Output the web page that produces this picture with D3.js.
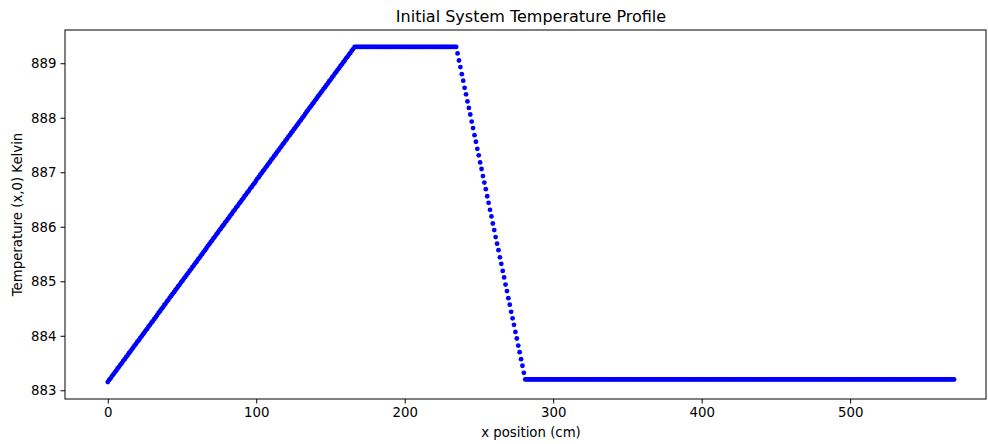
<!DOCTYPE html>
<html lang="en">
<head>
    <meta charset="UTF-8">
    <title>Initial System Temperature Profile</title>
    <script src="https://d3js.org/d3.v7.min.js"></script>
    <style>
        body { margin: 0; background: #fff; }
        text { font-family: "DejaVu Sans", sans-serif; fill: #000; }
        .axis text { font-size: 13.3px; }
        .axis path, .axis line { stroke: #000; stroke-width: 1; }
        .dot { fill: #0000ff; }
    </style>
</head>
<body>
    <div id="chart"></div>
    <script>
        // x positions of the grid nodes (cm)
        const xPositions = [
            0,0.95,1.9,2.85,3.8,4.75,5.7,6.65,7.6,8.55,9.5,10.45,11.4,12.35,13.3,14.25,15.2,16.15,17.1,18.05,
            19,19.95,20.9,21.85,22.8,23.75,24.7,25.65,26.6,27.55,28.5,29.45,30.4,31.35,32.3,33.25,34.2,35.15,36.1,37.05,
            38,38.95,39.9,40.85,41.8,42.75,43.7,44.65,45.6,46.55,47.5,48.45,49.4,50.35,51.3,52.25,53.2,54.15,55.1,56.05,
            57,57.95,58.9,59.85,60.8,61.75,62.7,63.65,64.6,65.55,66.5,67.45,68.4,69.35,70.3,71.25,72.2,73.15,74.1,75.05,
            76,76.95,77.9,78.85,79.8,80.75,81.7,82.65,83.6,84.55,85.5,86.45,87.4,88.35,89.3,90.25,91.2,92.15,93.1,94.05,
            95,95.95,96.9,97.85,98.8,99.75,100.7,101.65,102.6,103.55,104.5,105.45,106.4,107.35,108.3,109.25,110.2,111.15,112.1,113.05,
            114,114.95,115.9,116.85,117.8,118.75,119.7,120.65,121.6,122.55,123.5,124.45,125.4,126.35,127.3,128.25,129.2,130.15,131.1,132.05,
            133,133.95,134.9,135.85,136.8,137.75,138.7,139.65,140.6,141.55,142.5,143.45,144.4,145.35,146.3,147.25,148.2,149.15,150.1,151.05,
            152,152.95,153.9,154.85,155.8,156.75,157.7,158.65,159.6,160.55,161.5,162.45,163.4,164.35,165.3,166.25,167.2,168.15,169.1,170.05,
            171,171.95,172.9,173.85,174.8,175.75,176.7,177.65,178.6,179.55,180.5,181.45,182.4,183.35,184.3,185.25,186.2,187.15,188.1,189.05,
            190,190.95,191.9,192.85,193.8,194.75,195.7,196.65,197.6,198.55,199.5,200.45,201.4,202.35,203.3,204.25,205.2,206.15,207.1,208.05,
            209,209.95,210.9,211.85,212.8,213.75,214.7,215.65,216.6,217.55,218.5,219.45,220.4,221.35,222.3,223.25,224.2,225.15,226.1,227.05,
            228,228.95,229.9,230.85,231.8,232.75,233.7,234.65,235.6,236.55,237.5,238.45,239.4,240.35,241.3,242.25,243.2,244.15,245.1,246.05,
            247,247.95,248.9,249.85,250.8,251.75,252.7,253.65,254.6,255.55,256.5,257.45,258.4,259.35,260.3,261.25,262.2,263.15,264.1,265.05,
            266,266.95,267.9,268.85,269.8,270.75,271.7,272.65,273.6,274.55,275.5,276.45,277.4,278.35,279.3,280.25,281.2,282.15,283.1,284.05,
            285,285.95,286.9,287.85,288.8,289.75,290.7,291.65,292.6,293.55,294.5,295.45,296.4,297.35,298.3,299.25,300.2,301.15,302.1,303.05,
            304,304.95,305.9,306.85,307.8,308.75,309.7,310.65,311.6,312.55,313.5,314.45,315.4,316.35,317.3,318.25,319.2,320.15,321.1,322.05,
            323,323.95,324.9,325.85,326.8,327.75,328.7,329.65,330.6,331.55,332.5,333.45,334.4,335.35,336.3,337.25,338.2,339.15,340.1,341.05,
            342,342.95,343.9,344.85,345.8,346.75,347.7,348.65,349.6,350.55,351.5,352.45,353.4,354.35,355.3,356.25,357.2,358.15,359.1,360.05,
            361,361.95,362.9,363.85,364.8,365.75,366.7,367.65,368.6,369.55,370.5,371.45,372.4,373.35,374.3,375.25,376.2,377.15,378.1,379.05,
            380,380.95,381.9,382.85,383.8,384.75,385.7,386.65,387.6,388.55,389.5,390.45,391.4,392.35,393.3,394.25,395.2,396.15,397.1,398.05,
            399,399.95,400.9,401.85,402.8,403.75,404.7,405.65,406.6,407.55,408.5,409.45,410.4,411.35,412.3,413.25,414.2,415.15,416.1,417.05,
            418,418.95,419.9,420.85,421.8,422.75,423.7,424.65,425.6,426.55,427.5,428.45,429.4,430.35,431.3,432.25,433.2,434.15,435.1,436.05,
            437,437.95,438.9,439.85,440.8,441.75,442.7,443.65,444.6,445.55,446.5,447.45,448.4,449.35,450.3,451.25,452.2,453.15,454.1,455.05,
            456,456.95,457.9,458.85,459.8,460.75,461.7,462.65,463.6,464.55,465.5,466.45,467.4,468.35,469.3,470.25,471.2,472.15,473.1,474.05,
            475,475.95,476.9,477.85,478.8,479.75,480.7,481.65,482.6,483.55,484.5,485.45,486.4,487.35,488.3,489.25,490.2,491.15,492.1,493.05,
            494,494.95,495.9,496.85,497.8,498.75,499.7,500.65,501.6,502.55,503.5,504.45,505.4,506.35,507.3,508.25,509.2,510.15,511.1,512.05,
            513,513.95,514.9,515.85,516.8,517.75,518.7,519.65,520.6,521.55,522.5,523.45,524.4,525.35,526.3,527.25,528.2,529.15,530.1,531.05,
            532,532.95,533.9,534.85,535.8,536.75,537.7,538.65,539.6,540.55,541.5,542.45,543.4,544.35,545.3,546.25,547.2,548.15,549.1,550.05,
            551,551.95,552.9,553.85,554.8,555.75,556.7,557.65,558.6,559.55,560.5,561.45,562.4,563.35,564.3,565.25,566.2,567.15,568.1,569.05,
            570
        ];

        // temperatures (K), in four stretches along x
        const rampTemps = [
            883.15,883.19,883.22,883.26,883.29,883.33,883.36,883.40,883.43,883.47,883.50,883.54,883.57,883.61,883.64,883.68,883.71,883.75,883.78,883.82,
            883.85,883.89,883.92,883.96,883.99,884.03,884.06,884.10,884.13,884.17,884.20,884.24,884.27,884.31,884.34,884.38,884.42,884.45,884.49,884.52,
            884.56,884.59,884.63,884.66,884.70,884.73,884.77,884.80,884.84,884.87,884.91,884.94,884.98,885.01,885.05,885.08,885.12,885.15,885.19,885.22,
            885.26,885.29,885.33,885.36,885.40,885.43,885.47,885.50,885.54,885.57,885.61,885.65,885.68,885.72,885.75,885.79,885.82,885.86,885.89,885.93,
            885.96,886.00,886.03,886.07,886.10,886.14,886.17,886.21,886.24,886.28,886.31,886.35,886.38,886.42,886.45,886.49,886.52,886.56,886.59,886.63,
            886.66,886.70,886.73,886.77,886.80,886.84,886.88,886.91,886.95,886.98,887.02,887.05,887.09,887.12,887.16,887.19,887.23,887.26,887.30,887.33,
            887.37,887.40,887.44,887.47,887.51,887.54,887.58,887.61,887.65,887.68,887.72,887.75,887.79,887.82,887.86,887.89,887.93,887.96,888.00,888.03,
            888.07,888.11,888.14,888.18,888.21,888.25,888.28,888.32,888.35,888.39,888.42,888.46,888.49,888.53,888.56,888.60,888.63,888.67,888.70,888.74,
            888.77,888.81,888.84,888.88,888.91,888.95,888.98,889.02,889.05,889.09,889.12,889.16,889.19,889.23,889.26,889.30
        ];
        const plateauTemps = [
            889.3,889.3,889.3,889.3,889.3,889.3,889.3,889.3,889.3,889.3,889.3,889.3,889.3,889.3,889.3,889.3,889.3,889.3,889.3,889.3,
            889.3,889.3,889.3,889.3,889.3,889.3,889.3,889.3,889.3,889.3,889.3,889.3,889.3,889.3,889.3,889.3,889.3,889.3,889.3,889.3,
            889.3,889.3,889.3,889.3,889.3,889.3,889.3,889.3,889.3,889.3,889.3,889.3,889.3,889.3,889.3,889.3,889.3,889.3,889.3,889.3,
            889.3,889.3,889.3,889.3,889.3,889.3,889.3,889.3,889.3,889.3,889.3
        ];
        const dropTemps = [
            889.30,889.18,889.05,888.93,888.80,888.68,888.55,888.43,888.30,888.18,888.06,887.93,887.81,887.68,887.56,887.43,887.31,887.18,887.06,886.93,
            886.81,886.69,886.56,886.44,886.31,886.19,886.06,885.94,885.81,885.69,885.57,885.44,885.32,885.19,885.07,884.94,884.82,884.69,884.57,884.44,
            884.32,884.20,884.07,883.95,883.82,883.70,883.57,883.45,883.32,883.20
        ];
        const baseTemps = [
            883.2,883.2,883.2,883.2,883.2,883.2,883.2,883.2,883.2,883.2,883.2,883.2,883.2,883.2,883.2,883.2,883.2,883.2,883.2,883.2,
            883.2,883.2,883.2,883.2,883.2,883.2,883.2,883.2,883.2,883.2,883.2,883.2,883.2,883.2,883.2,883.2,883.2,883.2,883.2,883.2,
            883.2,883.2,883.2,883.2,883.2,883.2,883.2,883.2,883.2,883.2,883.2,883.2,883.2,883.2,883.2,883.2,883.2,883.2,883.2,883.2,
            883.2,883.2,883.2,883.2,883.2,883.2,883.2,883.2,883.2,883.2,883.2,883.2,883.2,883.2,883.2,883.2,883.2,883.2,883.2,883.2,
            883.2,883.2,883.2,883.2,883.2,883.2,883.2,883.2,883.2,883.2,883.2,883.2,883.2,883.2,883.2,883.2,883.2,883.2,883.2,883.2,
            883.2,883.2,883.2,883.2,883.2,883.2,883.2,883.2,883.2,883.2,883.2,883.2,883.2,883.2,883.2,883.2,883.2,883.2,883.2,883.2,
            883.2,883.2,883.2,883.2,883.2,883.2,883.2,883.2,883.2,883.2,883.2,883.2,883.2,883.2,883.2,883.2,883.2,883.2,883.2,883.2,
            883.2,883.2,883.2,883.2,883.2,883.2,883.2,883.2,883.2,883.2,883.2,883.2,883.2,883.2,883.2,883.2,883.2,883.2,883.2,883.2,
            883.2,883.2,883.2,883.2,883.2,883.2,883.2,883.2,883.2,883.2,883.2,883.2,883.2,883.2,883.2,883.2,883.2,883.2,883.2,883.2,
            883.2,883.2,883.2,883.2,883.2,883.2,883.2,883.2,883.2,883.2,883.2,883.2,883.2,883.2,883.2,883.2,883.2,883.2,883.2,883.2,
            883.2,883.2,883.2,883.2,883.2,883.2,883.2,883.2,883.2,883.2,883.2,883.2,883.2,883.2,883.2,883.2,883.2,883.2,883.2,883.2,
            883.2,883.2,883.2,883.2,883.2,883.2,883.2,883.2,883.2,883.2,883.2,883.2,883.2,883.2,883.2,883.2,883.2,883.2,883.2,883.2,
            883.2,883.2,883.2,883.2,883.2,883.2,883.2,883.2,883.2,883.2,883.2,883.2,883.2,883.2,883.2,883.2,883.2,883.2,883.2,883.2,
            883.2,883.2,883.2,883.2,883.2,883.2,883.2,883.2,883.2,883.2,883.2,883.2,883.2,883.2,883.2,883.2,883.2,883.2,883.2,883.2,
            883.2,883.2,883.2,883.2,883.2,883.2,883.2,883.2,883.2,883.2,883.2,883.2,883.2,883.2,883.2,883.2,883.2,883.2,883.2,883.2,
            883.2,883.2,883.2,883.2
        ];

        const xTicks = [0, 100, 200, 300, 400, 500];
        const yTicks = [883, 884, 885, 886, 887, 888, 889];

        const temps = rampTemps.concat(plateauTemps, dropTemps, baseTemps);
        const points = xPositions.map((x, i) => ({ x: x, t: temps[i] }));

        // figure layout
        const W = 988, H = 444;
        const margin = { top: 30, right: 2, bottom: 45, left: 65 };
        const width = W - margin.left - margin.right;
        const height = H - margin.top - margin.bottom;
        const textCenter = 531;

        const svg = d3.select("#chart")
            .append("svg")
            .attr("width", W)
            .attr("height", H);

        const g = svg.append("g")
            .attr("transform", "translate(" + margin.left + "," + margin.top + ")");

        const x = d3.scaleLinear()
            .domain([-28.8, 591.5])
            .range([0, width]);

        const y = d3.scaleLinear()
            .domain([882.84, 889.61])
            .range([height, 0]);

        // dots
        g.selectAll(".dot")
            .data(points)
            .enter()
            .append("circle")
            .attr("class", "dot")
            .attr("cx", d => x(d.x))
            .attr("cy", d => y(d.t))
            .attr("r", 2.4);

        // axes
        g.append("g")
            .attr("class", "axis")
            .attr("transform", "translate(0," + height + ")")
            .call(d3.axisBottom(x).tickValues(xTicks).tickFormat(d3.format("d")).tickSizeInner(4.5).tickSizeOuter(0).tickPadding(4))
            .select(".domain").remove();

        g.append("g")
            .attr("class", "axis")
            .call(d3.axisLeft(y).tickValues(yTicks).tickFormat(d3.format("d")).tickSizeInner(4.5).tickSizeOuter(0).tickPadding(4))
            .select(".domain").remove();

        // frame
        g.append("rect")
            .attr("x", 0)
            .attr("y", 0)
            .attr("width", width)
            .attr("height", height)
            .attr("fill", "none")
            .attr("stroke", "#000")
            .attr("stroke-width", 1);

        // labels
        svg.append("text")
            .attr("x", textCenter)
            .attr("y", 22)
            .attr("text-anchor", "middle")
            .style("font-size", "16px")
            .text("Initial System Temperature Profile");

        svg.append("text")
            .attr("x", textCenter)
            .attr("y", 437)
            .attr("text-anchor", "middle")
            .style("font-size", "13.3px")
            .text("x position (cm)");

        svg.append("text")
            .attr("transform", "rotate(-90)")
            .attr("x", -(margin.top + height / 2))
            .attr("y", 22)
            .attr("text-anchor", "middle")
            .style("font-size", "13.3px")
            .text("Temperature (x,0) Kelvin");
    </script>
</body>
</html>
